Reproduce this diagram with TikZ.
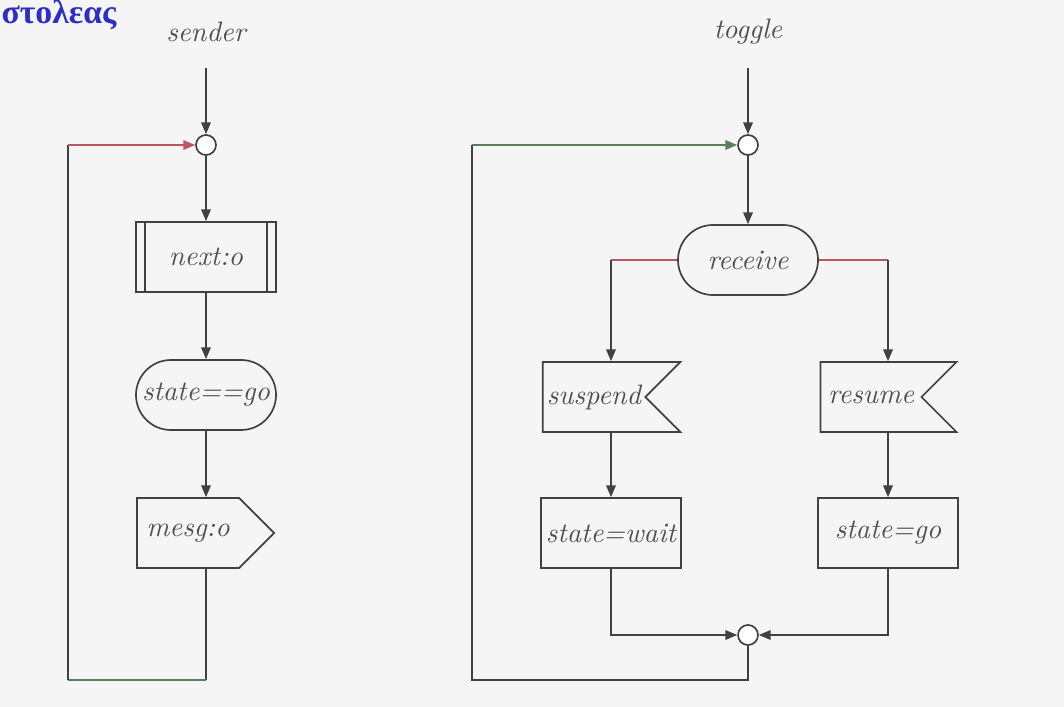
\documentclass[tikz,border=0pt]{standalone}
\usepackage{fontspec}
\newfontfamily\greekfont{Liberation Serif}
\usepackage{tikz}
\usetikzlibrary{shapes.symbols, arrows.meta, calc}

\definecolor{linegray}{RGB}{65,65,65}
\definecolor{textgray}{RGB}{80,80,80}
\definecolor{tintred}{RGB}{190,85,95}
\definecolor{tintgreen}{RGB}{110,165,115}
\definecolor{greekblue}{RGB}{45,45,200}

\begin{document}
\begin{tikzpicture}[x=0.0125cm, y=-0.0125cm,
	line/.style={draw=linegray, line width=0.6pt},
	flow/.style={line, -{Triangle[length=4.2pt,width=3.4pt]}},
	lbl/.style={font=\itshape, text=textgray},
	box/.style={line, font=\itshape, text=textgray},
	proc/.style={box, rectangle, inner xsep=1.5pt, minimum width=1.75cm, minimum height=0.875cm},
	term/.style={proc, rounded corners=0.4375cm},
	outsig/.style={box, signal, signal to=east, signal pointer angle=90, minimum width=1.3cm, minimum height=0.875cm},
	insig/.style={box, signal, signal to=nowhere, signal from=east, signal pointer angle=90, inner xsep=1.5pt, minimum width=1.7cm, minimum height=0.875cm},
	junc/.style={line, circle, fill=white, minimum size=0.25cm, inner sep=0pt}]
	\useasboundingbox (0,0) rectangle (1064,707);
	\fill[black!4] (0,0) rectangle (1064,707);
	
	\node[anchor=base west, inner sep=0pt, text=greekblue, font=\greekfont\bfseries\large] (title) at (1,24) {στολεας};
	
	% sender
	\node[lbl] (sndlbl) at (206,32) {sender};
	\coordinate (sin) at (206,68);
	\node[junc] (sjoin) at (206,145) {};
	\node[proc] (next) at (206,257) {next:o};
	\draw[line] ([xshift=0.125cm]next.north west) -- ([xshift=0.125cm]next.south west);
	\draw[line] ([xshift=-0.125cm]next.north east) -- ([xshift=-0.125cm]next.south east);
	\node[term] (cond) at (206,395) {state==go};
	\node[outsig] (mesg) at (188,533) {mesg:o};
	\coordinate (lloop) at (68,680);
	
	\draw[flow] (sin) -- (sjoin);
	\draw[flow] (sjoin) -- (next);
	\draw[flow] (next) -- (cond);
	\draw[flow] (cond) -- (mesg.north -| cond);
	\draw[line] (mesg.south -| cond) -- (cond |- lloop);
	\draw[line, draw=tintgreen!60!linegray] (cond |- lloop) -- (lloop);
	\draw[line] (lloop) -- (lloop |- sjoin);
	\draw[flow, draw=tintred] (lloop |- sjoin) -- (sjoin);
	
	% toggle
	\node[lbl] (tgllbl) at (748,32) {toggle};
	\coordinate (tin) at (748,68);
	\node[junc] (tjoin) at (748,145) {};
	\node[term] (recv) at (748,260) {receive};
	\node[insig] (susp) at (594,397) {suspend};
	\node[insig] (resm) at (871,397) {resume};
	\node[proc] (wait) at (611,533) {state=wait};
	\node[proc] (go) at (888,533) {state=go};
	\node[junc] (merge) at (748,635) {};
	\coordinate (rloop) at (472,680);
	
	\draw[flow] (tin) -- (tjoin);
	\draw[flow] (tjoin) -- (recv);
	\draw[line, draw=tintred] (recv.west) -- (recv.west -| wait);
	\draw[flow] (recv.west -| wait) -- (susp.north -| wait);
	\draw[line, draw=tintred] (recv.east) -- (recv.east -| go);
	\draw[flow] (recv.east -| go) -- (resm.north -| go);
	\draw[flow] (susp.south -| wait) -- (wait);
	\draw[flow] (resm.south -| go) -- (go);
	\draw[flow] (wait.south) |- (merge);
	\draw[flow] (go.south) |- (merge);
	\draw[line] (merge) |- (rloop) -- (rloop |- tjoin);
	\draw[flow, draw=tintgreen!60!linegray] (rloop |- tjoin) -- (tjoin);
\end{tikzpicture}
\end{document}
